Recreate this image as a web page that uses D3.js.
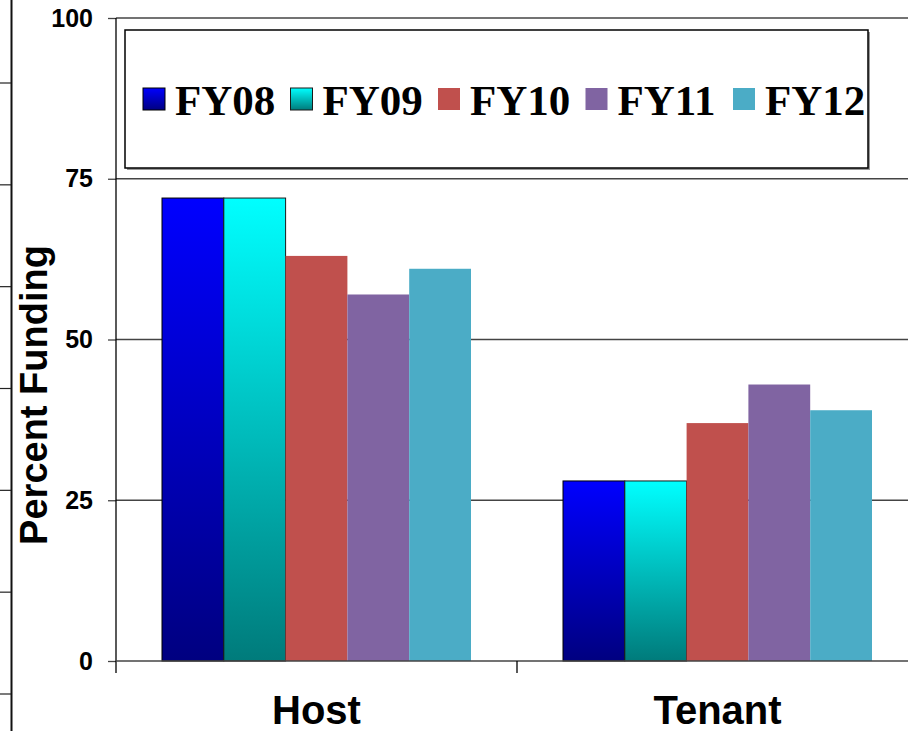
<!DOCTYPE html>
<html>
<head>
<meta charset="utf-8">
<script src="https://cdn.jsdelivr.net/npm/d3@7"></script>
<style>
  body { margin: 0; background: #fff; }
  svg { display: block; }
</style>
</head>
<body>
<svg id="chart"></svg>
<script>
const categories = ['Host', 'Tenant'];
const years = ['FY08', 'FY09', 'FY10', 'FY11', 'FY12'];
const hostValues = [72, 72, 63, 57, 61];
const tenantValues = [28, 28, 37, 43, 39];
const yTicks = [0, 25, 50, 75, 100];

const series = { Host: hostValues, Tenant: tenantValues };

const width = 908;
const height = 731;

const svg = d3.select('#chart')
    .attr('width', width)
    .attr('height', height);

// gradients for the first two years, plain fills for the rest
const defs = svg.append('defs');
const fills = [
    { id: 'g08', top: '#0000ff', bottom: '#000080', stroke: '#000000' },
    { id: 'g09', top: '#00ffff', bottom: '#007b7b', stroke: '#1a1a1a' },
    { color: '#c0504d' },
    { color: '#8064a2' },
    { color: '#4bacc6' }
];
fills.forEach(f => {
    if (!f.id) return;
    const g = defs.append('linearGradient')
        .attr('id', f.id)
        .attr('x1', 0).attr('y1', 0)
        .attr('x2', 0).attr('y2', 1);
    g.append('stop').attr('offset', '0%').attr('stop-color', f.top);
    g.append('stop').attr('offset', '100%').attr('stop-color', f.bottom);
});
const fillOf = i => fills[i].id ? `url(#${fills[i].id})` : fills[i].color;

// leftover axis of the neighbouring chart at the left edge
const leftAxis = d3.scaleLinear().domain([0, 6]).range([83, 694]);
svg.append('line')
    .attr('x1', 11.5).attr('x2', 11.5)
    .attr('y1', 0).attr('y2', height)
    .attr('stroke', '#111').attr('stroke-width', 2);
svg.selectAll('.ltick')
    .data(d3.range(0, 7))
    .enter().append('line')
    .attr('class', 'ltick')
    .attr('x1', 0).attr('x2', 11)
    .attr('y1', d => leftAxis(d)).attr('y2', d => leftAxis(d))
    .attr('stroke', '#222').attr('stroke-width', 1.2);

const x0 = 116;
const y = d3.scaleLinear().domain([0, 100]).range([661, 18]);
const x = d3.scaleBand().domain(categories).range([x0, x0 + 802]);
const xSub = d3.scaleBand().domain(years).range([46, 355]);

// gridlines
svg.selectAll('.grid')
    .data(yTicks.filter(d => d > 0))
    .enter().append('line')
    .attr('class', 'grid')
    .attr('x1', x0).attr('x2', width)
    .attr('y1', d => y(d)).attr('y2', d => y(d))
    .attr('stroke', '#444').attr('stroke-width', 1.3);

// bars
const group = svg.selectAll('.cat')
    .data(categories)
    .enter().append('g')
    .attr('class', 'cat')
    .attr('transform', d => `translate(${x(d)},0)`);

group.selectAll('rect')
    .data(c => series[c].map((v, i) => ({ year: years[i], value: v, i })))
    .enter().append('rect')
    .attr('x', d => xSub(d.year))
    .attr('y', d => y(d.value))
    .attr('width', xSub.bandwidth())
    .attr('height', d => y(0) - y(d.value))
    .attr('fill', d => fillOf(d.i))
    .attr('stroke', d => fills[d.i].stroke || 'none')
    .attr('stroke-width', 1);

// y axis
const yAxis = d3.axisLeft(y).tickValues(yTicks).tickSize(8).tickPadding(15);
const ya = svg.append('g')
    .attr('transform', `translate(${x0},0)`)
    .call(yAxis);
ya.select('.domain').remove();
ya.selectAll('.tick line').attr('stroke', '#444').attr('stroke-width', 1.3);
ya.selectAll('.tick text')
    .attr('font-family', 'Liberation Sans, Arial, sans-serif')
    .attr('font-weight', 'bold')
    .attr('font-size', 25)
    .attr('fill', '#000');
svg.append('line')
    .attr('x1', x0).attr('x2', x0)
    .attr('y1', y(100)).attr('y2', 673)
    .attr('stroke', '#000').attr('stroke-width', 1.3);

// x axis
svg.append('line')
    .attr('x1', x0).attr('x2', width)
    .attr('y1', y(0)).attr('y2', y(0))
    .attr('stroke', '#444').attr('stroke-width', 1.5);
svg.selectAll('.xtick')
    .data(categories.slice(1))
    .enter().append('line')
    .attr('class', 'xtick')
    .attr('x1', d => x(d)).attr('x2', d => x(d))
    .attr('y1', y(0)).attr('y2', 673)
    .attr('stroke', '#000').attr('stroke-width', 1.3);

svg.selectAll('.xlabel')
    .data(categories)
    .enter().append('text')
    .attr('class', 'xlabel')
    .attr('x', d => x(d) + x.bandwidth() / 2)
    .attr('y', 724)
    .attr('text-anchor', 'middle')
    .attr('font-family', 'Liberation Sans, Arial, sans-serif')
    .attr('font-weight', 'bold')
    .attr('font-size', 40)
    .text(d => d);

svg.append('text')
    .attr('transform', 'translate(47,395) rotate(-90)')
    .attr('text-anchor', 'middle')
    .attr('font-family', 'Liberation Sans, Arial, sans-serif')
    .attr('font-weight', 'bold')
    .attr('font-size', 38)
    .text('Percent Funding');

// legend
svg.append('rect')
    .attr('x', 127).attr('y', 32)
    .attr('width', 743).attr('height', 138)
    .attr('fill', '#999');
svg.append('rect')
    .attr('x', 125).attr('y', 30)
    .attr('width', 743).attr('height', 138)
    .attr('fill', '#fff')
    .attr('stroke', '#000').attr('stroke-width', 1.5);

const lx = d3.scaleLinear().domain([0, 4]).range([143, 733]);
const item = svg.selectAll('.legend')
    .data(years)
    .enter().append('g')
    .attr('class', 'legend')
    .attr('transform', (d, i) => `translate(${lx(i)},0)`);
item.append('rect')
    .attr('x', 0).attr('y', 88)
    .attr('width', 22).attr('height', 22)
    .attr('fill', (d, i) => fillOf(i))
    .attr('stroke', (d, i) => fills[i].stroke || 'none')
    .attr('stroke-width', 1);
item.append('text')
    .attr('x', 32).attr('y', 115)
    .attr('font-family', 'Liberation Serif, Times New Roman, serif')
    .attr('font-weight', 'bold')
    .attr('font-size', 43)
    .text(d => d);
</script>
</body>
</html>
